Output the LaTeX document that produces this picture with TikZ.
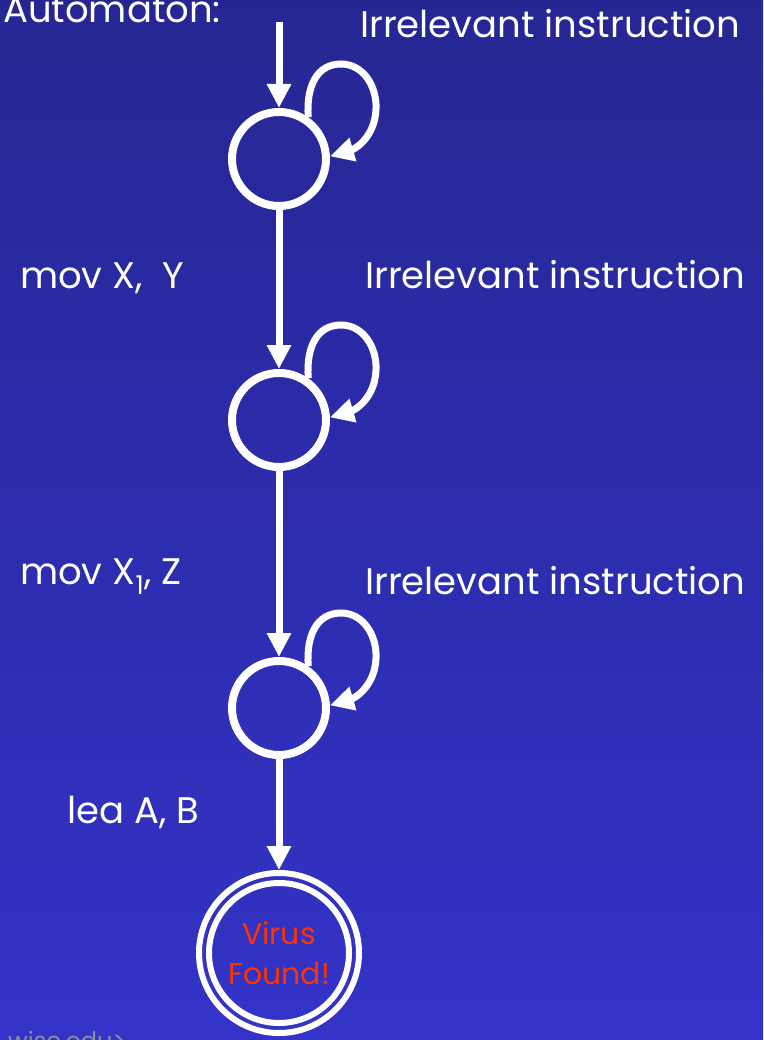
\documentclass[tikz,border=0pt]{standalone}
\usepackage{fontspec}
\setmainfont{Poppins}
\usetikzlibrary{arrows.meta,calc}
\definecolor{bgtop}{RGB}{38,38,147}
\definecolor{bgbot}{RGB}{51,51,200}
\definecolor{virusred}{RGB}{255,51,0}
\definecolor{footgray}{RGB}{140,140,155}
\begin{document}
\begin{tikzpicture}[x=1pt,y=-1pt,
  state/.style={circle,draw=white,line width=8pt,minimum size=94pt,inner sep=0pt},
  accept/.style={circle,draw=white,line width=6pt,minimum size=160pt,inner sep=0pt},
  ring/.style={draw=white,line width=6pt},
  edge/.style={draw=white,line width=7pt,-{Triangle[width=23pt,length=24pt]}},
  selfloop/.style={draw=white,line width=7pt,-{Triangle[width=23pt,length=24pt]}},
  lbl/.style={text=white,font=\fontsize{37}{40}\selectfont,anchor=base west,inner sep=0pt},
]
\useasboundingbox (0,0) rectangle (763,1040);
\shade[top color=bgtop,bottom color=bgbot] (0,0) rectangle (763,1040);

% states
\node[state] (s1) at (279,159) {};
\node[state] (s2) at (279,420) {};
\node[state] (s3) at (279,708) {};
\node[accept] (f) at (279,953) {};
\draw[ring] (f.center) circle[radius=70pt];
\node[text=virusred,font=\fontsize{30}{40}\selectfont,align=center,inner sep=0pt] (vf) at (f.center) {Virus\\Found!};

% transitions
\coordinate (init) at (279,22);
\draw[edge] (init) -- (s1);
\draw[edge] (s1) -- (s2);
\draw[edge] (s2) -- (s3);
\draw[edge] (s3) -- (f);

% self loops: up from the upper right, over an arch, back in from the right
\foreach \s in {s1,s2,s3}{
  \draw[selfloop] (\s.55)
    .. controls ($(\s)+(27,-73)$) and ($(\s)+(38,-95)$) .. ($(\s)+(62,-95)$)
    .. controls ($(\s)+(84,-95)$) and ($(\s)+(98,-73)$) .. ($(\s)+(97,-50)$)
    .. controls ($(\s)+(96,-22)$) and ($(\s)+(76,-10)$) .. (\s.3);
}

% labels
\node[lbl] (title) at (3,23) {Automaton:};
\node[lbl] (ir1) at (360,38) {Irrelevant instruction};
\node[lbl] (ir2) at (365,289) {Irrelevant instruction};
\node[lbl] (ir3) at (365,594) {Irrelevant instruction};
\node[lbl] (m1) at (20,289) {mov X,\ \ Y};
\node[lbl] (m2) at (20,584) {mov X\textsubscript{1}, Z};
\node[lbl] (m3) at (67,823) {lea A, B};
\node[text=footgray,font=\fontsize{24}{28}\selectfont,anchor=base west,inner sep=0pt] (foot) at (8,1049) {wisc.edu>};
\end{tikzpicture}
\end{document}
